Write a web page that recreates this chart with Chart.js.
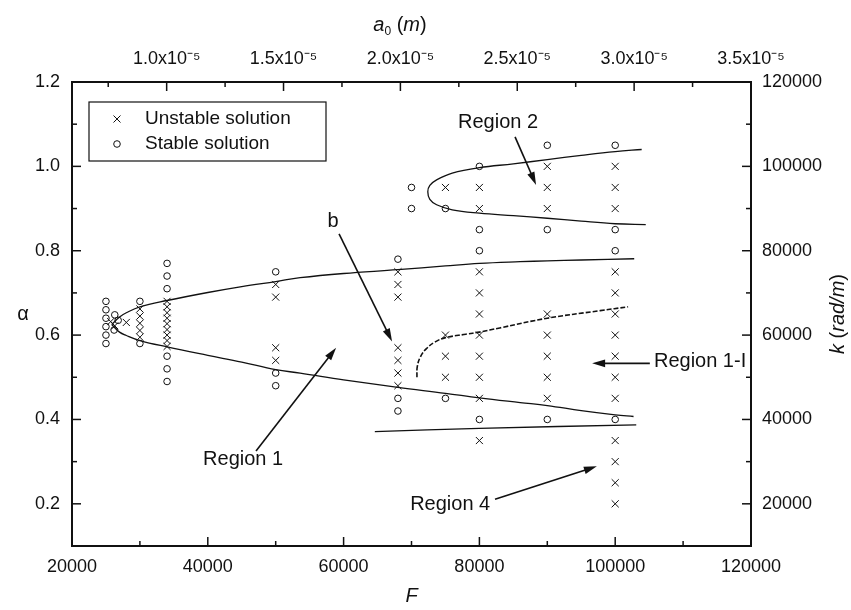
<!DOCTYPE html>
<html><head><meta charset="utf-8">
<script src="https://cdn.jsdelivr.net/npm/chart.js@4.4.1/dist/chart.umd.min.js"></script>
<style>html,body{margin:0;padding:0;background:#fff}#wrap{width:851px;height:610px}</style>
</head><body><div id="wrap"><canvas id="c"></canvas></div>
<script>
// ---------- data ----------
const unstableF = [25700,26300,28000,
  30000,30000,30000,30000,30000,
  34000,34000,34000,34000,34000,34000,34000,34000,34000,
  50000,50000,50000,50000,
  68000,68000,68000,68000,68000,68000,68000,
  75000,75000,75000,75000,
  80000,80000,80000,80000,80000,80000,80000,80000,80000,80000,
  90000,90000,90000,90000,90000,90000,90000,90000,
  100000,100000,100000,100000,100000,100000,100000,100000,100000,100000,100000,100000,100000,100000];
const unstableAlpha = [0.632,0.622,0.63,
  0.662,0.645,0.628,0.611,0.595,
  0.68,0.667,0.653,0.64,0.627,0.613,0.60,0.587,0.573,
  0.72,0.69,0.57,0.54,
  0.75,0.72,0.69,0.57,0.54,0.51,0.48,
  0.95,0.60,0.55,0.50,
  0.95,0.90,0.75,0.70,0.65,0.60,0.55,0.50,0.45,0.35,
  1.00,0.95,0.90,0.65,0.60,0.55,0.50,0.45,
  1.00,0.95,0.90,0.75,0.70,0.65,0.60,0.55,0.50,0.45,0.35,0.30,0.25,0.20];

const stableF = [25000,25000,25000,25000,25000,25000,26300,26800,26200,
  30000,30000,
  34000,34000,34000,34000,34000,34000,
  50000,50000,50000,
  68000,68000,68000,
  70000,70000,
  75000,75000,
  80000,80000,80000,80000,
  90000,90000,90000,
  100000,100000,100000,100000];
const stableAlpha = [0.68,0.66,0.64,0.62,0.60,0.58,0.648,0.635,0.612,
  0.68,0.58,
  0.77,0.74,0.71,0.55,0.52,0.49,
  0.75,0.51,0.48,
  0.78,0.45,0.42,
  0.95,0.90,
  0.90,0.45,
  1.00,0.85,0.80,0.40,
  1.05,0.85,0.40,
  1.05,0.85,0.80,0.40];

const r1UpperF = [25850,27000,28000,30000,34000,40000,45000,50000,53600,60000,68000,75000,80000,86000,90000,95000,102800];
const r1UpperAlpha = [0.625,0.643,0.653,0.667,0.682,0.701,0.715,0.727,0.736,0.746,0.755,0.764,0.770,0.774,0.776,0.778,0.781];
const r1LowerF = [25850,27000,28000,30000,34000,40000,45000,50000,53600,60000,68000,75000,80000,86000,90000,95000,100000,102700];
const r1LowerAlpha = [0.625,0.607,0.599,0.587,0.572,0.552,0.536,0.518,0.510,0.494,0.476,0.462,0.451,0.440,0.433,0.421,0.411,0.407];

const r2F = [103900,100000,95000,90000,85000,80000,76000,73700,72700,72400,72700,73700,76000,80000,85000,90000,95000,100000,104500];
const r2Alpha = [1.040,1.035,1.026,1.016,1.006,0.997,0.984,0.968,0.955,0.940,0.922,0.909,0.897,0.889,0.883,0.877,0.870,0.864,0.862];

const r1iF = [70800,70850,71300,72200,73500,75000,78000,80000,83000,90000,97800,101900];
const r1iAlpha = [0.500,0.525,0.548,0.568,0.584,0.594,0.602,0.607,0.617,0.640,0.658,0.667];

const r4F = [64600,80000,103100];
const r4Alpha = [0.371,0.379,0.387];

const bottomTicks = [20000,40000,60000,80000,100000,120000];
const bottomMinor = [30000,50000,70000,90000,110000];
const leftTicks = [0.2,0.4,0.6,0.8,1.0,1.2];
const leftMinor = [0.3,0.5,0.7,0.9,1.1];
const rightTicks = [20000,40000,60000,80000,100000,120000];
const rightMinor = [30000,50000,70000,90000,110000];
const topTicks = [1.0,1.5,2.0,2.5,3.0,3.5];   // a0 in units of 1e-5 m
const topMinor = [0.75,1.25,1.75,2.25,2.75,3.25];

const legendLabels = ['Unstable solution','Stable solution'];
const annotTexts = ['Region 2','b','Region 1','Region 4','Region 1-I'];
const annotTextF = [82750,58450,45200,75700,112500];
const annotTextAlpha = [1.103,0.869,0.305,0.199,0.537];
const arrowFromF = [85250,59330,47100,82300,105100];
const arrowFromAlpha = [1.070,0.840,0.325,0.211,0.533];
const arrowToF = [88350,67140,58900,97300,96600];
const arrowToAlpha = [0.956,0.585,0.570,0.289,0.533];

// ---------- helpers ----------
const FONT = "'Liberation Sans', Arial, Helvetica, sans-serif";
const INK = '#111';
const pts = (xs, ys) => xs.map((x, i) => ({x, y: ys[i]}));
const fixTicks = arr => s => { s.ticks = arr.map(v => ({value: v})); };

function curve(label, xs, ys, dash) {
  return {type:'line', label, data: pts(xs, ys), showLine:true, pointRadius:0,
    borderColor: INK, borderWidth: dash ? 1.6 : 1.3, borderDash: dash || [], tension:0.4, fill:false};
}

const tickPlugin = {
  id:'inTicks',
  afterDraw(chart) {
    const {ctx, chartArea:a, scales} = chart;
    ctx.save(); ctx.strokeStyle = INK; ctx.lineWidth = 1.5;
    const line = (x1,y1,x2,y2) => { ctx.beginPath(); ctx.moveTo(x1,y1); ctx.lineTo(x2,y2); ctx.stroke(); };
    bottomTicks.forEach(v => { const x = scales.x.getPixelForValue(v); line(x,a.bottom,x,a.bottom-9); });
    bottomMinor.forEach(v => { const x = scales.x.getPixelForValue(v); line(x,a.bottom,x,a.bottom-5); });
    topTicks.forEach(v => { const x = scales.x2.getPixelForValue(v); line(x,a.top,x,a.top+9); });
    topMinor.forEach(v => { const x = scales.x2.getPixelForValue(v); line(x,a.top,x,a.top+5); });
    leftTicks.forEach(v => { const y = scales.y.getPixelForValue(v); line(a.left,y,a.left+9,y); });
    leftMinor.forEach(v => { const y = scales.y.getPixelForValue(v); line(a.left,y,a.left+5,y); });
    rightTicks.forEach(v => { const y = scales.y2.getPixelForValue(v); line(a.right,y,a.right-9,y); });
    rightMinor.forEach(v => { const y = scales.y2.getPixelForValue(v); line(a.right,y,a.right-5,y); });
    ctx.restore();
  }
};

function drawArrow(ctx, x1, y1, x2, y2) {
  const ang = Math.atan2(y2-y1, x2-x1), L = 13, W = 3.8;
  const c = Math.cos(ang), s = Math.sin(ang);
  ctx.beginPath(); ctx.moveTo(x1,y1); ctx.lineTo(x2-c*L*0.8, y2-s*L*0.8); ctx.stroke();
  ctx.beginPath(); ctx.moveTo(x2,y2);
  ctx.lineTo(x2-L*c+W*s, y2-L*s-W*c);
  ctx.lineTo(x2-L*c-W*s, y2-L*s+W*c);
  ctx.closePath(); ctx.fill();
}

const annotPlugin = {
  id:'annot',
  afterDatasetsDraw(chart) {
    const {ctx, chartArea:a, scales} = chart;
    const X = scales.x, Y = scales.y;
    ctx.save();
    ctx.fillStyle = INK; ctx.strokeStyle = INK; ctx.lineWidth = 1.6;
    ctx.font = '20px ' + FONT; ctx.textAlign = 'center'; ctx.textBaseline = 'middle';
    annotTexts.forEach((t, i) => ctx.fillText(t, X.getPixelForValue(annotTextF[i]), Y.getPixelForValue(annotTextAlpha[i])));
    arrowFromF.forEach((f, i) => drawArrow(ctx, X.getPixelForValue(f), Y.getPixelForValue(arrowFromAlpha[i]),
      X.getPixelForValue(arrowToF[i]), Y.getPixelForValue(arrowToAlpha[i])));
    // legend
    const lx = a.left + 17, ly = a.top + 20, lw = 237, lh = 59;
    ctx.fillStyle = '#fff'; ctx.fillRect(lx, ly, lw, lh);
    ctx.lineWidth = 1.2; ctx.strokeRect(lx, ly, lw, lh);
    ctx.fillStyle = INK; ctx.lineWidth = 1;
    const mx = lx + 28, r1 = ly + 17, r2 = ly + 42;
    ctx.beginPath(); ctx.moveTo(mx-3.5, r1-3.5); ctx.lineTo(mx+3.5, r1+3.5);
    ctx.moveTo(mx-3.5, r1+3.5); ctx.lineTo(mx+3.5, r1-3.5); ctx.stroke();
    ctx.beginPath(); ctx.arc(mx, r2, 3.3, 0, Math.PI*2); ctx.stroke();
    ctx.font = '19px ' + FONT; ctx.textAlign = 'left';
    ctx.fillText(legendLabels[0], lx + 56, r1);
    ctx.fillText(legendLabels[1], lx + 56, r2);
    ctx.restore();
  }
};

function drawParts(ctx, parts, x, y) {
  let w = 0;
  parts.forEach(p => { ctx.font = p.f; w += ctx.measureText(p.t).width; });
  let cx = x - w/2;
  parts.forEach(p => { ctx.font = p.f; ctx.fillText(p.t, cx, y + (p.dy || 0)); cx += ctx.measureText(p.t).width; });
}

const titlePlugin = {
  id:'titles',
  afterDraw(chart) {
    const {ctx, chartArea:a} = chart;
    const cy = (a.top + a.bottom) / 2, cx = (a.left + a.right) / 2;
    ctx.save(); ctx.fillStyle = INK; ctx.textBaseline = 'alphabetic'; ctx.textAlign = 'left';
    const N = '20px ' + FONT, I = 'italic 20px ' + FONT;
    // left
    ctx.font = N; ctx.textAlign = 'center'; ctx.textBaseline = 'middle';
    ctx.fillText('α', 23, cy);
    // bottom
    ctx.font = I; ctx.fillText('F', cx, 596);
    // top
    ctx.textAlign = 'left'; ctx.textBaseline = 'alphabetic';
    drawParts(ctx, [{t:'a', f:I}, {t:'0', f:'12px ' + FONT, dy:4}, {t:' (', f:N}, {t:'m', f:I}, {t:')', f:N}], 400, 31);
    // right
    ctx.translate(838, cy); ctx.rotate(-Math.PI/2);
    ctx.textBaseline = 'middle';
    drawParts(ctx, [{t:'k', f:I}, {t:' (', f:N}, {t:'rad/m', f:I}, {t:')', f:N}], 0, 0);
    ctx.restore();
  }
};

const tickFont = {size:18, family:FONT};
const baseAxis = {
  type:'linear',
  grid:{display:false, drawTicks:false},
  border:{display:true, width:2, color:INK}
};

new Chart(document.getElementById('c'), {
  type:'scatter',
  data:{datasets:[
    {label:'Unstable solution', data:pts(unstableF, unstableAlpha), pointStyle:'crossRot', pointRadius:5,
      borderColor:INK, borderWidth:1, backgroundColor:INK},
    {label:'Stable solution', data:pts(stableF, stableAlpha), pointStyle:'circle', pointRadius:3.3,
      borderColor:INK, borderWidth:1, backgroundColor:'rgba(0,0,0,0)'},
    curve('Region 1 upper', r1UpperF, r1UpperAlpha),
    curve('Region 1 lower', r1LowerF, r1LowerAlpha),
    curve('Region 2', r2F, r2Alpha),
    curve('Region 1-I', r1iF, r1iAlpha, [5,2]),
    curve('Region 4', r4F, r4Alpha)
  ]},
  options:{
    responsive:true, maintainAspectRatio:false, animation:false,
    layout:{padding:0},
    plugins:{legend:{display:false}, tooltip:{enabled:false}},
    scales:{
      x:{...baseAxis, position:'bottom', min:20000, max:120000,
        ticks:{padding:10, font:tickFont, color:INK, autoSkip:false, maxRotation:0, callback:v => String(v)},
        afterBuildTicks:fixTicks(bottomTicks), afterFit:s => { s.height = 64; }},
      x2:{...baseAxis, position:'top', min:0.595, max:3.5,
        ticks:{padding:12, font:tickFont, color:INK, autoSkip:false, maxRotation:0, callback:v => v.toFixed(1) + 'x10\u207B\u2075'},
        afterBuildTicks:fixTicks(topTicks), afterFit:s => { s.height = 82; }},
      y:{...baseAxis, position:'left', min:0.1, max:1.2,
        ticks:{padding:12, font:tickFont, color:INK, autoSkip:false, callback:v => v.toFixed(1)},
        afterBuildTicks:fixTicks(leftTicks), afterFit:s => { s.width = 72; }},
      y2:{...baseAxis, position:'right', min:10000, max:120000,
        ticks:{padding:11, font:tickFont, color:INK, autoSkip:false, callback:v => String(v)},
        afterBuildTicks:fixTicks(rightTicks), afterFit:s => { s.width = 100; }}
    }
  },
  plugins:[tickPlugin, annotPlugin, titlePlugin]
});
</script>
</body></html>
